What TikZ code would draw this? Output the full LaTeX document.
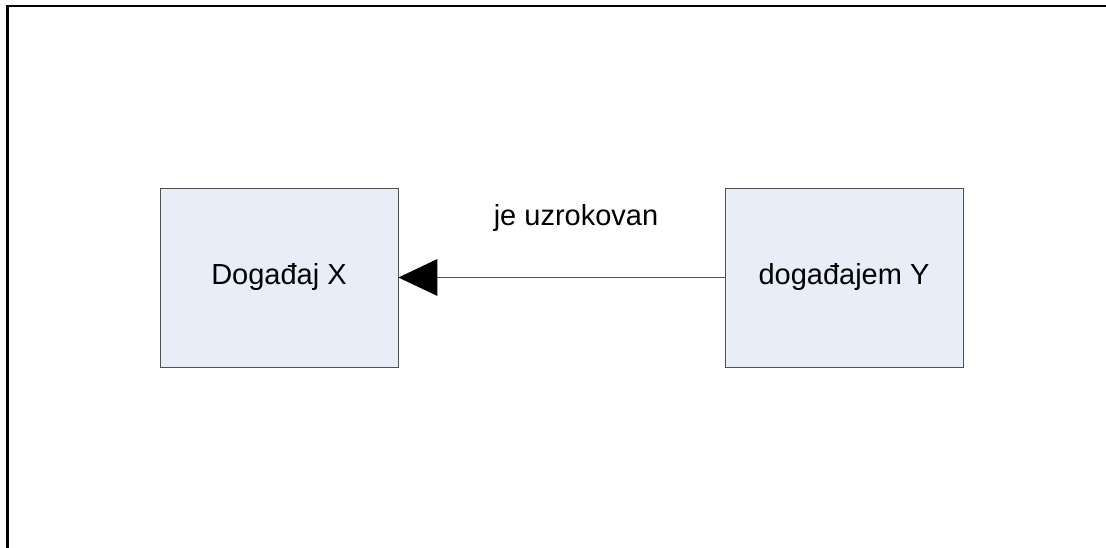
\documentclass[tikz,border=0pt]{standalone}
\usepackage{fontspec}
\setmainfont{Liberation Sans}
\definecolor{boxfill}{RGB}{232,238,248}
\definecolor{boxline}{RGB}{80,80,80}
\begin{document}
\begin{tikzpicture}[x=1pt,y=-1pt,
  evbox/.style={draw=boxline,fill=boxfill,line width=0.8pt,minimum width=238pt,minimum height=179pt,inner sep=0pt,font=\fontsize{29}{34}\selectfont},
  lbl/.style={font=\fontsize{29}{34}\selectfont,inner sep=0pt},
  frame/.style={line width=2.2pt,line cap=rect}]
\useasboundingbox (0,0) rectangle (1106,548);
\coordinate (fa) at (7.5,549);
\coordinate (fb) at (7.5,6);
\coordinate (fc) at (1107,6);
\draw[frame] (fa) -- (fb) -- (fc);
\node[evbox] (x) at (279,277.5) {Događaj X};
\node[evbox] (y) at (844,277.5) {događajem Y};
\node[lbl] (l) at (576,218) {je uzrokovan};
\draw[draw=boxline,line width=0.8pt] (y.west) -- ([xshift=39pt]x.east);
\fill ([xshift=39pt,yshift=-18.5pt]x.east) -- (x.east) -- ([xshift=39pt,yshift=18.5pt]x.east) -- cycle;
\end{tikzpicture}
\end{document}
